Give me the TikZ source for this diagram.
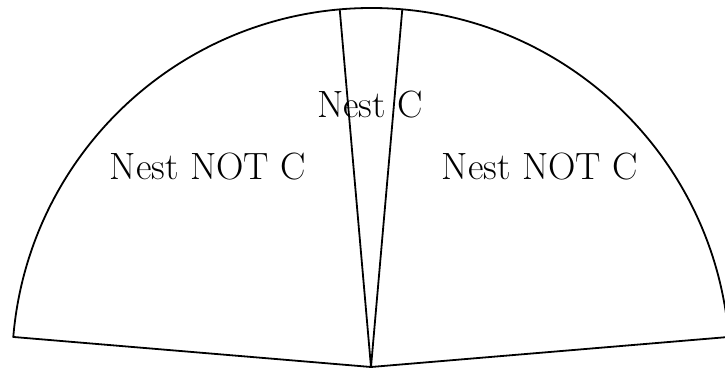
\documentclass[tikz,border=0pt]{standalone}
\begin{document}
\begin{tikzpicture}[x=1pt,y=1pt,
  edge/.style={line width=1.8pt, line join=round},
  lbl/.style={inner sep=0pt, font=\fontsize{38}{44}\selectfont}]
\useasboundingbox (0,0) rectangle (725,369);
\coordinate (O) at (371,2);
\draw[edge] (O) -- ++(4.8:359) arc[start angle=4.8, end angle=175.2, radius=359] -- cycle;
\draw[edge] (O) -- ++(85:359);
\draw[edge] (O) -- ++(95:359);
\node[lbl] (c) at (370,264) {Nest C};
\node[lbl] (l) at (208,202) {Nest NOT C};
\node[lbl] (r) at (540,202) {Nest NOT C};
\end{tikzpicture}
\end{document}
